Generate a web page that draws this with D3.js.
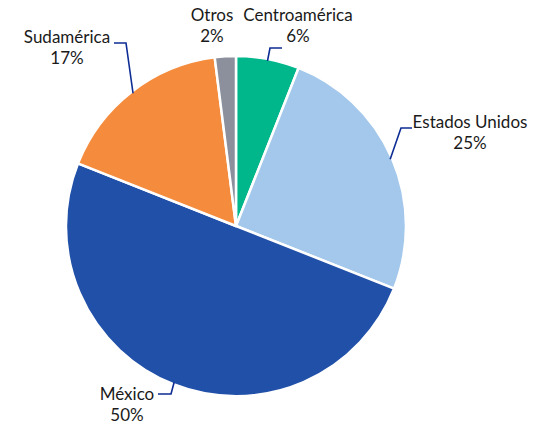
<!DOCTYPE html>
<html>
<head>
<meta charset="utf-8">
<script src="https://cdn.jsdelivr.net/npm/d3@7"></script>
<style>
  body { margin: 0; background: #fff; }
  text { font-family: Lato, "Noto Sans", sans-serif; font-size: 17px; fill: #1a1a1a; }
</style>
</head>
<body>
<script>
// data
var regions = ["Centroamérica", "Estados Unidos", "México", "Sudamérica", "Otros"];
var shares = [6, 25, 50, 17, 2];
var pctLabels = ["6%", "25%", "50%", "17%", "2%"];

var colors = ["#00b68b", "#a3c8eb", "#2150a8", "#f58c3d", "#8b909c"];

// label placement (x, y of first line, elbow and end of leader line)
var labelPos = {
  "Centroamérica":  {x: 298, y: 21,  elbow: [270, 48],  end: [282, 48]},
  "Estados Unidos": {x: 470, y: 128, elbow: [401, 128], end: [412, 128]},
  "México":         {x: 127, y: 400, elbow: [171, 394], end: [158, 394]},
  "Sudamérica":     {x: 67,  y: 43,  elbow: [126, 43],  end: [114, 43]},
  "Otros":          {x: 212, y: 21,  elbow: null, end: null}
};

var w = 543, h = 426;
var cx = 236, cy = 226, r = 170;

var svg = d3.select("body").append("svg")
    .attr("width", w)
    .attr("height", h);

var data = regions.map(function(d, i) { return {name: d, value: shares[i], pct: pctLabels[i], color: colors[i]}; });

var pie = d3.pie().sort(null).value(function(d) { return d.value; });
var arc = d3.arc().innerRadius(0).outerRadius(r);

var g = svg.append("g").attr("transform", "translate(" + cx + "," + cy + ")");

var arcs = pie(data);

g.selectAll("path.slice").data(arcs).enter().append("path")
    .attr("class", "slice")
    .attr("d", arc)
    .attr("fill", function(d) { return d.data.color; })
    .attr("stroke", "#fff")
    .attr("stroke-width", 2.5)
    .attr("stroke-linejoin", "round");

// leader lines
arcs.forEach(function(d) {
  var p = labelPos[d.data.name];
  if (!p.elbow) return;
  var a = (d.startAngle + d.endAngle) / 2;
  var sx = cx + Math.sin(a) * (r - 2), sy = cy - Math.cos(a) * (r - 2);
  svg.append("path")
    .attr("d", "M" + sx + "," + sy + "L" + p.elbow[0] + "," + p.elbow[1] + "L" + p.end[0] + "," + p.end[1])
    .attr("fill", "none")
    .attr("stroke", "#0d2c94")
    .attr("stroke-width", 1.6);
});

// labels
arcs.forEach(function(d) {
  var p = labelPos[d.data.name];
  var t = svg.append("text").attr("text-anchor", "middle");
  t.append("tspan").attr("x", p.x).attr("y", p.y).text(d.data.name);
  t.append("tspan").attr("x", p.x).attr("y", p.y + 21).text(d.data.pct);
});
</script>
</body>
</html>
